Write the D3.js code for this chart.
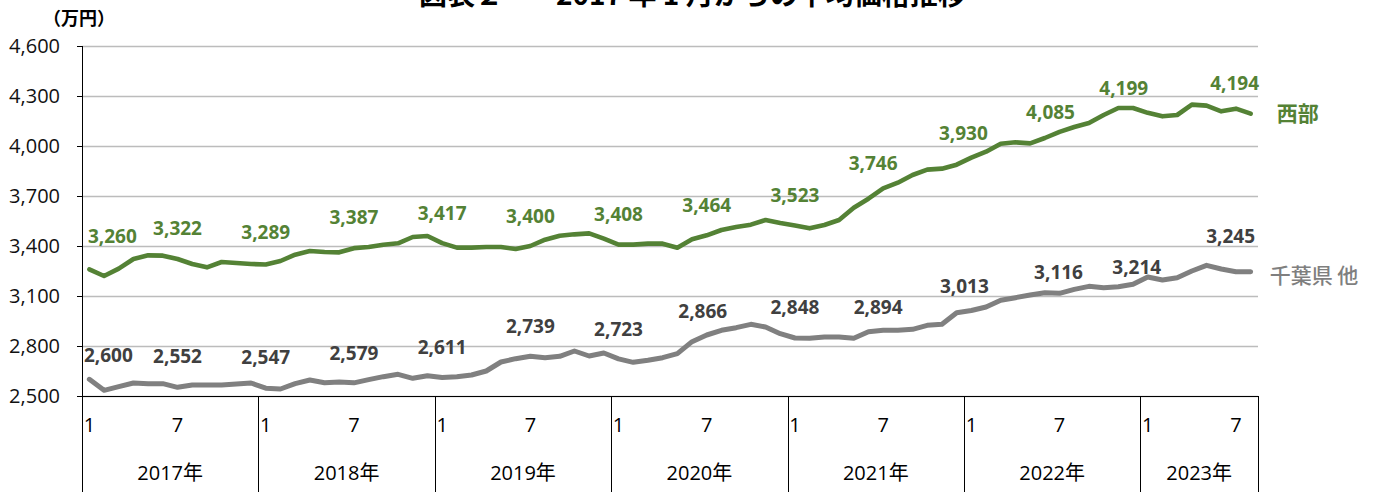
<!DOCTYPE html>
<html>
<head>
<meta charset="utf-8">
<script src="https://cdn.jsdelivr.net/npm/d3@7"></script>
<style>
  body { margin: 0; background: #fff; }
  svg { display: block; font-family: "Open Sans", "Noto Sans CJK JP", sans-serif; }
</style>
</head>
<body>
<svg></svg>
<script>
// categories: one band per month, Jan 2017 - Aug 2023
const years = ["2017年", "2018年", "2019年", "2020年", "2021年", "2022年", "2023年"];
const monthsPerYear = [12, 12, 12, 12, 12, 12, 8];
const monthTickLabels = [1, 7];

// average price (万円)
const westValues = [
  3260, 3220, 3264, 3322, 3344, 3342, 3322, 3292, 3272, 3304, 3298, 3292,
  3289, 3310, 3348, 3370, 3364, 3362, 3387, 3394, 3408, 3416, 3454, 3460,
  3417, 3390, 3390, 3394, 3394, 3382, 3400, 3438, 3462, 3470, 3476, 3444,
  3408, 3408, 3414, 3414, 3390, 3440, 3464, 3496, 3514, 3528, 3556, 3538,
  3523, 3506, 3526, 3556, 3630, 3684, 3746, 3780, 3826, 3858, 3864, 3888,
  3930, 3966, 4014, 4022, 4016, 4048, 4085, 4114, 4138, 4186, 4228, 4228,
  4199, 4178, 4186, 4248, 4242, 4208, 4224, 4194
];
const chibaValues = [
  2600, 2534, 2556, 2578, 2574, 2574, 2552, 2566, 2566, 2566, 2572, 2578,
  2547, 2542, 2574, 2596, 2580, 2584, 2579, 2598, 2616, 2630, 2606, 2622,
  2611, 2616, 2626, 2650, 2704, 2724, 2739, 2730, 2738, 2770, 2740, 2758,
  2723, 2702, 2714, 2730, 2754, 2826, 2866, 2894, 2910, 2930, 2914, 2874,
  2848, 2846, 2854, 2854, 2846, 2886, 2894, 2894, 2900, 2924, 2930, 3000,
  3013, 3034, 3074, 3090, 3106, 3120, 3116, 3140, 3158, 3150, 3156, 3170,
  3214, 3196, 3210, 3250, 3284, 3262, 3246, 3245
];
const labelMonths = [0, 6, 12, 18, 24, 30, 36, 42, 48, 54, 60, 66, 72, 79];
const yTicks = [2500, 2800, 3100, 3400, 3700, 4000, 4300, 4600];

// label nudges as placed in the original (dx, height above point)
const westLabelNudge = {0: [23, 33], 6: [0, 31], 12: [0, 32], 18: [0, 31], 54: [-10, 25], 60: [-8, 24], 66: [-9, 20], 72: [-24, 25], 79: [-16, 30]};
const chibaLabelNudge = {0: [19, 24], 6: [0, 31], 12: [0, 31], 42: [-4, 24], 48: [0, 31], 54: [-5, 23], 60: [-7, 24], 66: [-1, 21], 72: [-11, 10], 79: [-20, 36]};

const green = "#548235";
const greyLine = "#808080";

const months = [];
years.forEach((yr, yi) => {
  for (let m = 1; m <= monthsPerYear[yi]; m++) months.push({ key: yi + "-" + m, year: yr, yi: yi, month: m });
});

const svg = d3.select("svg")
    .attr("width", 1381)
    .attr("height", 492);

const plotLeft = 82, plotRight = 1258, plotTop = 46, plotBottom = 396;

const x = d3.scaleBand()
    .domain(months.map(d => d.key))
    .range([plotLeft, plotRight])
    .padding(0);
const cx = i => x(months[i].key) + x.bandwidth() / 2;

const y = d3.scaleLinear()
    .domain([2500, 4600])
    .range([plotBottom, plotTop]);

// gridlines
svg.append("g")
    .attr("transform", `translate(${plotLeft},0)`)
    .call(d3.axisLeft(y).tickValues(yTicks).tickSize(-(plotRight - plotLeft)).tickFormat(""))
    .call(g => g.select(".domain").remove())
    .call(g => g.selectAll("line").attr("stroke", "#bcbcbc").attr("stroke-width", 1.3));

// y axis
const yAxis = svg.append("g")
    .attr("transform", `translate(${plotLeft},0)`)
    .call(d3.axisLeft(y).tickValues(yTicks).tickSize(5).tickPadding(17).tickFormat(d3.format(",")));
yAxis.select(".domain").attr("stroke", "#000").attr("d", `M0.5,${plotTop}V492`);
yAxis.selectAll("line").attr("stroke", "#000");
yAxis.selectAll("text")
    .attr("font-size", 20)
    .attr("fill", "#111")
    .attr("font-family", "'Open Sans', sans-serif");

svg.append("text")
    .attr("x", 43).attr("y", 25)
    .attr("font-size", 18).attr("font-weight", 700)
    .attr("font-family", "'Noto Sans CJK JP', sans-serif")
    .text("（万円）");

// title (cut off at the top in the original)
svg.append("text")
    .attr("x", 419).attr("y", 5)
    .attr("font-size", 28).attr("font-weight", 700)
    .attr("font-family", "'Noto Sans CJK JP', sans-serif")
    .text("図表２");
svg.append("text")
    .attr("x", 556).attr("y", 5)
    .attr("font-size", 28).attr("font-weight", 700)
    .attr("font-family", "'Noto Sans CJK JP', sans-serif")
    .text("2017 年 1 月からの平均価格推移");

// category axis (two levels)
const cat = svg.append("g");
cat.append("line")
    .attr("x1", plotLeft).attr("x2", plotRight)
    .attr("y1", plotBottom + 0.5).attr("y2", plotBottom + 0.5)
    .attr("stroke", "#000");

const yearStarts = months.filter(d => d.month === 1).map(d => x(d.key)).concat([plotRight]);
cat.selectAll("line.sep")
    .data(yearStarts.slice(1))
    .join("line")
    .attr("class", "sep")
    .attr("x1", d => Math.round(d) + 0.5).attr("x2", d => Math.round(d) + 0.5)
    .attr("y1", plotBottom).attr("y2", 492)
    .attr("stroke", "#000");

cat.selectAll("text.month")
    .data(months.filter(d => monthTickLabels.includes(d.month)))
    .join("text")
    .attr("class", "month")
    .attr("x", d => x(d.key) + x.bandwidth() / 2)
    .attr("y", 432)
    .attr("text-anchor", "middle")
    .attr("font-size", 20)
    .attr("fill", "#000")
    .text(d => d.month);

cat.selectAll("text.year")
    .data(years)
    .join("text")
    .attr("class", "year")
    .attr("x", (d, i) => (yearStarts[i] + yearStarts[i + 1]) / 2)
    .attr("y", 480)
    .attr("text-anchor", "middle")
    .attr("font-size", 20)
    .attr("fill", "#000")
    .text(d => d);

// lines
const line = d3.line()
    .x((d, i) => cx(i))
    .y(d => y(d));

svg.append("path")
    .datum(chibaValues)
    .attr("d", line)
    .attr("fill", "none")
    .attr("stroke", greyLine)
    .attr("stroke-width", 5)
    .attr("stroke-linejoin", "round")
    .attr("stroke-linecap", "round");

svg.append("path")
    .datum(westValues)
    .attr("d", line)
    .attr("fill", "none")
    .attr("stroke", green)
    .attr("stroke-width", 4.6)
    .attr("stroke-linejoin", "round")
    .attr("stroke-linecap", "round");

// data labels
const drawLabels = (values, nudge, colour) => {
  svg.append("g")
      .selectAll("text")
      .data(labelMonths)
      .join("text")
      .attr("x", i => cx(i) + (nudge[i] ? nudge[i][0] : 0))
      .attr("y", i => y(values[i]) - (nudge[i] ? nudge[i][1] : 30) + 6.7)
      .attr("text-anchor", "middle")
      .attr("font-size", 19)
      .attr("font-weight", 700)
      .attr("fill", colour)
      .text(i => d3.format(",")(values[i]));
};
drawLabels(westValues, westLabelNudge, green);
drawLabels(chibaValues, chibaLabelNudge, "#404040");

// series names at line ends
const last = months.length - 1;
svg.append("text")
    .attr("x", cx(last) + 26)
    .attr("y", y(westValues[last]) + 7)
    .attr("font-size", 21).attr("font-weight", 700)
    .attr("font-family", "'Noto Sans CJK JP', sans-serif")
    .attr("fill", green)
    .text("西部");
svg.append("text")
    .attr("x", cx(last) + 19)
    .attr("y", y(chibaValues[last]) + 11)
    .attr("font-size", 21).attr("font-weight", 500)
    .attr("font-family", "'Noto Sans CJK JP', sans-serif")
    .attr("fill", "#7f7f7f")
    .text("千葉県 他");
</script>
</body>
</html>
